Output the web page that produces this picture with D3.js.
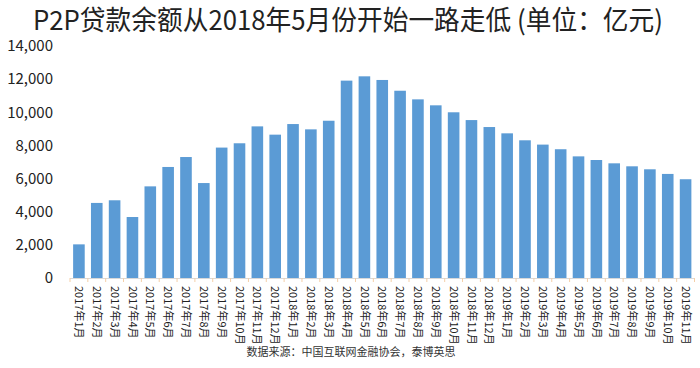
<!DOCTYPE html>
<html>
<head>
<meta charset="utf-8">
<script src="https://cdn.jsdelivr.net/npm/d3@7"></script>
<style>
  body { margin: 0; background: #fff; }
  svg { display: block; }
</style>
</head>
<body>
<div id="chart"></div>
<script>
// Dimensions
const width = 700;
const height = 368;

// Data
const months = [
    "2017年1月", "2017年2月", "2017年3月", "2017年4月", "2017年5月", "2017年6月",
    "2017年7月", "2017年8月", "2017年9月", "2017年10月", "2017年11月", "2017年12月",
    "2018年1月", "2018年2月", "2018年3月", "2018年4月", "2018年5月", "2018年6月",
    "2018年7月", "2018年8月", "2018年9月", "2018年10月", "2018年11月", "2018年12月",
    "2019年1月", "2019年2月", "2019年3月", "2019年4月", "2019年5月", "2019年6月",
    "2019年7月", "2019年8月", "2019年9月", "2019年10月", "2019年11月"
];
const balances = [
    2030, 4530, 4690, 3680, 5530, 6700, 7300, 5730, 7870, 8130, 9150, 8650,
    9290, 8970, 9490, 11910, 12170, 11950, 11300, 10780, 10420, 10000, 9530, 9110,
    8730, 8310, 8050, 7770, 7340, 7120, 6920, 6740, 6560, 6280, 5960
];
const yTicks = [0, 2000, 4000, 6000, 8000, 10000, 12000, 14000];

const titleText = "P2P贷款余额从2018年5月份开始一路走低 (单位：亿元)";
const sourceText = "数据来源：中国互联网金融协会，泰博英思";

const FONT = "'Noto Sans CJK SC', 'Noto Sans', sans-serif";
const BAR_COLOUR = "#5b9bd5";

// Scales
const x = d3.scaleBand()
    .domain(months)
    .range([70, 694.5])
    .paddingInner(0.35)
    .paddingOuter(0.175);

const y = d3.scaleLinear()
    .domain([0, 14000])
    .range([278, 46]);

const svg = d3.select("#chart").append("svg")
    .attr("width", width)
    .attr("height", height)
    .style("font-family", FONT);

// Title (squeezed a bit to fit the original's width)
svg.append("text")
    .attr("x", 33)
    .attr("y", 30)
    .attr("font-size", 27)
    .attr("textLength", 630)
    .attr("lengthAdjust", "spacingAndGlyphs")
    .attr("fill", "#222")
    .text(titleText);

// Y axis (labels only)
const yAxis = d3.axisLeft(y)
    .tickValues(yTicks)
    .tickSize(0)
    .tickPadding(0)
    .tickFormat(d3.format(","));

svg.append("g")
    .attr("transform", "translate(53,0)")
    .call(yAxis)
    .call(g => g.select(".domain").remove())
    .selectAll("text")
        .attr("font-family", FONT)
        .attr("font-size", 15)
        .attr("fill", "#222");

// Bars
svg.append("g")
    .selectAll("rect")
    .data(balances)
    .join("rect")
    .attr("x", (d, i) => x(months[i]))
    .attr("y", d => y(d))
    .attr("width", x.bandwidth())
    .attr("height", d => y(0) - y(d))
    .attr("fill", BAR_COLOUR);

// X axis baseline and ticks between bars
const xAxisG = svg.append("g");
xAxisG.append("line")
    .attr("x1", x.range()[0])
    .attr("x2", x.range()[1])
    .attr("y1", y(0) + 0.5)
    .attr("y2", y(0) + 0.5)
    .attr("stroke", "#d9d9d9");

const boundaries = months.map(m => x(m) - x.step() * x.paddingInner() / 2);
boundaries.push(x.range()[1]);
xAxisG.selectAll(".tick-mark")
    .data(boundaries)
    .join("line")
    .attr("class", "tick-mark")
    .attr("x1", d => d)
    .attr("x2", d => d)
    .attr("y1", y(0))
    .attr("y2", y(0) + 4)
    .attr("stroke", "#f4cfa8");

// X labels, rotated to read top to bottom
xAxisG.selectAll(".xlabel")
    .data(months)
    .join("text")
    .attr("class", "xlabel")
    .attr("transform", d => `translate(${x(d) + x.bandwidth() / 2},286) rotate(90)`)
    .attr("dy", "0.35em")
    .attr("font-size", 11)
    .attr("fill", "#222")
    .text(d => d);

// Source note
svg.append("text")
    .attr("x", 351)
    .attr("y", 356)
    .attr("text-anchor", "middle")
    .attr("font-size", 11)
    .attr("fill", "#333")
    .text(sourceText);
</script>
</body>
</html>
